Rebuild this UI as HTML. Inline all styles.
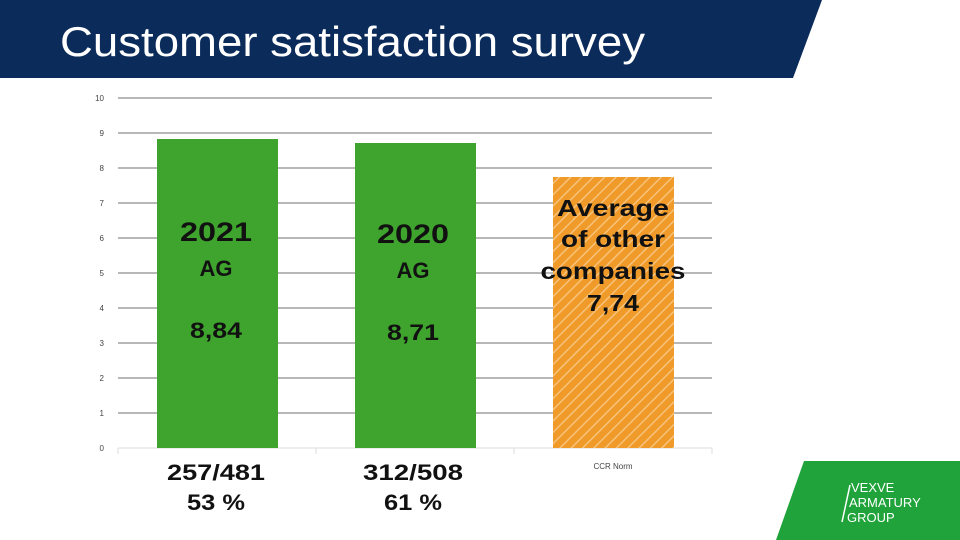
<!DOCTYPE html>
<html><head><style>
body{margin:0;width:960px;height:540px;overflow:hidden;background:#fff;font-family:"Liberation Sans",sans-serif}
</style></head><body>
<svg width="960" height="540" xmlns="http://www.w3.org/2000/svg" style="display:block">
<defs>
<pattern id="h" width="8" height="8" patternUnits="userSpaceOnUse" patternTransform="rotate(45)">
<rect width="8" height="8" fill="#f09a2a"/><rect width="1.5" height="8" fill="#f7c27a"/>
</pattern>
</defs>
<polygon points="0,0 822,0 793,78 0,78" fill="#0b2b5b"/>
<text x="60" y="56" font-size="42" fill="#fff" textLength="585" lengthAdjust="spacingAndGlyphs">Customer satisfaction survey</text>
<g stroke="#a0a0a0" stroke-width="1.5">
<line x1="118" y1="98" x2="712" y2="98"/><line x1="118" y1="133" x2="712" y2="133"/>
<line x1="118" y1="168" x2="712" y2="168"/><line x1="118" y1="203" x2="712" y2="203"/>
<line x1="118" y1="238" x2="712" y2="238"/><line x1="118" y1="273" x2="712" y2="273"/>
<line x1="118" y1="308" x2="712" y2="308"/><line x1="118" y1="343" x2="712" y2="343"/>
<line x1="118" y1="378" x2="712" y2="378"/><line x1="118" y1="413" x2="712" y2="413"/>
</g>
<line x1="118" y1="448" x2="712" y2="448" stroke="#ddd" stroke-width="1"/>
<g stroke="#ddd"><line x1="118" y1="448" x2="118" y2="454"/><line x1="316" y1="448" x2="316" y2="454"/><line x1="514" y1="448" x2="514" y2="454"/><line x1="712" y1="448" x2="712" y2="454"/></g>
<g font-size="8" fill="#444" text-anchor="end">
<text x="104" y="101">10</text><text x="104" y="136">9</text><text x="104" y="171">8</text><text x="104" y="206">7</text><text x="104" y="241">6</text><text x="104" y="276">5</text><text x="104" y="311">4</text><text x="104" y="346">3</text><text x="104" y="381">2</text><text x="104" y="416">1</text><text x="104" y="451">0</text>
</g>
<rect x="157" y="139" width="121" height="309" fill="#3fa42e"/>
<rect x="355" y="143" width="121" height="305" fill="#3fa42e"/>
<rect x="553" y="177" width="121" height="271" fill="url(#h)"/>
<g font-weight="bold" fill="#111" text-anchor="middle">
<text x="216" y="241" font-size="27" textLength="72" lengthAdjust="spacingAndGlyphs">2021</text><text x="216" y="276" font-size="22">AG</text><text x="216" y="338" font-size="22" textLength="52" lengthAdjust="spacingAndGlyphs">8,84</text>
<text x="413" y="243" font-size="27" textLength="72" lengthAdjust="spacingAndGlyphs">2020</text><text x="413" y="278" font-size="22">AG</text><text x="413" y="340" font-size="22" textLength="52" lengthAdjust="spacingAndGlyphs">8,71</text>
<text x="613" y="216" font-size="23" textLength="112" lengthAdjust="spacingAndGlyphs">Average</text><text x="613" y="247" font-size="23" textLength="104" lengthAdjust="spacingAndGlyphs">of other</text><text x="613" y="279" font-size="23" textLength="145" lengthAdjust="spacingAndGlyphs">companies</text><text x="613" y="311" font-size="23" textLength="52" lengthAdjust="spacingAndGlyphs">7,74</text>
<text x="216" y="480" font-size="22" textLength="98" lengthAdjust="spacingAndGlyphs">257/481</text><text x="216" y="510" font-size="22" textLength="58" lengthAdjust="spacingAndGlyphs">53 %</text>
<text x="413" y="480" font-size="22" textLength="100" lengthAdjust="spacingAndGlyphs">312/508</text><text x="413" y="510" font-size="22" textLength="58" lengthAdjust="spacingAndGlyphs">61 %</text>
</g>
<text x="613" y="469" font-size="8" fill="#444" text-anchor="middle">CCR Norm</text>
<polygon points="804,461 960,461 960,540 776,540" fill="#1fa33a"/>
<line x1="850" y1="485" x2="842" y2="522" stroke="#fff" stroke-width="1.5"/>
<g fill="#fff" font-size="13"><text x="851" y="492">VEXVE</text><text x="849" y="507">ARMATURY</text><text x="847" y="522">GROUP</text></g>
</svg>
</body></html>
